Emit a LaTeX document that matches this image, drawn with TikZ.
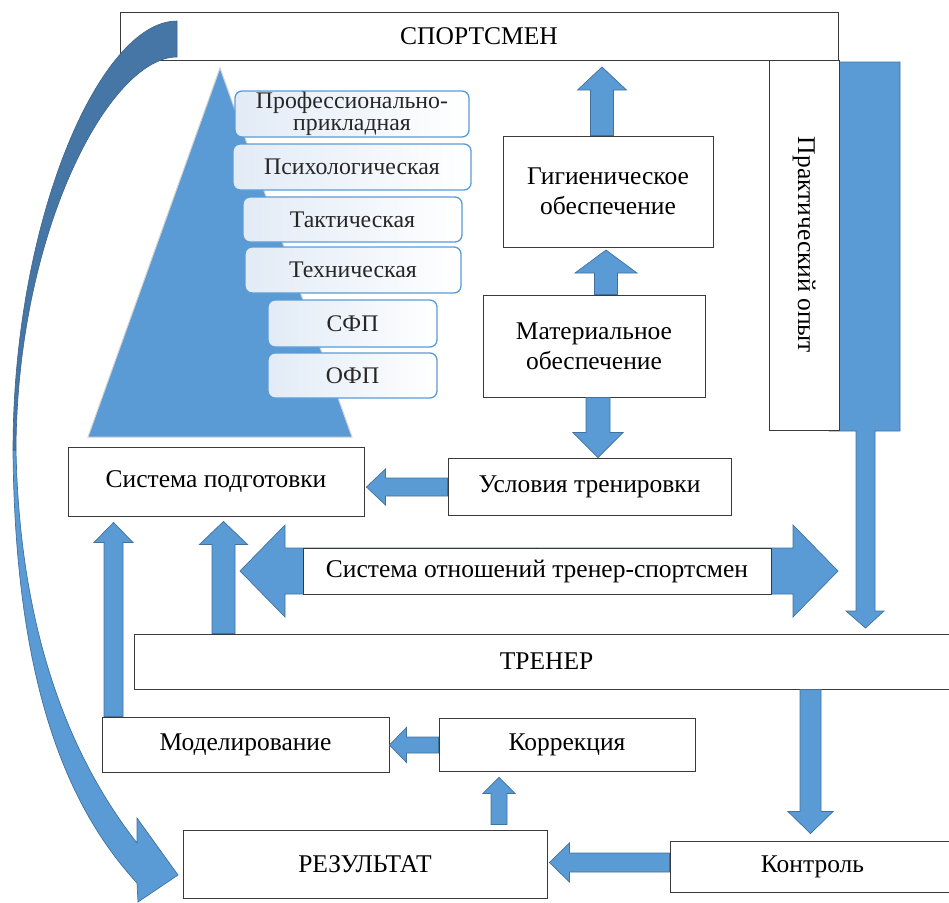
\documentclass[tikz,border=0pt]{standalone}
\usepackage{fontspec}
\setmainfont{Liberation Serif}
\usetikzlibrary{calc}
\definecolor{bluefill}{HTML}{5B9BD5}
\definecolor{blueline}{HTML}{41719C}
\definecolor{darkband}{HTML}{4676A5}
\definecolor{pale}{HTML}{E2EBF6}
\definecolor{boxline}{HTML}{3A3A3A}
\newcommand\mainsz{\fontsize{25.5}{30}\selectfont}
\newcommand\pyrsz{\fontsize{23.8}{22}\selectfont}
\tikzset{
 box/.style={draw=boxline, line width=0.9pt, fill=white, inner sep=0pt, font=\mainsz, align=center, text=black},
 pbox/.style={draw=bluefill, line width=1.3pt, rounded corners=7pt, left color=pale, right color=white, inner sep=0pt, font=\pyrsz, align=center, text=black!85},
 barrow/.style={fill=bluefill, draw=blueline, line width=0.7pt, line join=miter},
 darkarrow/.style={fill=darkband, draw=darkband!85!black, line width=0.6pt},
}
% block arrow: [opts]{base}{tip}{shaft half}{head half}{head length}
\newcommand\blockarrow[6][]{%
  \coordinate (bahb) at ($(#3)!#6!(#2)$);
  \draw[barrow,#1] ($(#2)!#4!90:(#3)$) -- ($(bahb)!#4!90:(#3)$) -- ($(bahb)!#5!90:(#3)$) -- (#3) -- ($(bahb)!#5!-90:(#3)$) -- ($(bahb)!#4!-90:(#3)$) -- ($(#2)!#4!-90:(#3)$) -- cycle;}
\begin{document}
\begin{tikzpicture}[x=1pt,y=-1pt]
\useasboundingbox (0,0) rectangle (949,902);
% pyramid
\path (220,68) coordinate (pyT) (88,437) coordinate (pyL) (352,437) coordinate (pyR);
\draw[fill=bluefill, draw=black!18, line width=1pt] (pyT) -- (pyL) -- (pyR) -- cycle;
% pyramid levels
\node[pbox, minimum width=234pt, minimum height=46pt] (prof) at (352,114) {Профессионально-\\прикладная};
\node[pbox, minimum width=238pt, minimum height=46pt] (psych) at (352,167) {Психологическая};
\node[pbox, minimum width=219pt, minimum height=45pt] (takt) at (352.5,219.5) {Тактическая};
\node[pbox, minimum width=216pt, minimum height=46pt] (tech) at (353,270) {Техническая};
\node[pbox, minimum width=169pt, minimum height=47pt] (sfp) at (352.5,323.5) {СФП};
\node[pbox, minimum width=169pt, minimum height=45pt] (ofp) at (352.5,375.5) {ОФП};
% practical experience bar
\draw[barrow] (829,62) -- (900,62) -- (900,431) -- (875,431) -- (875,611) -- (884,611) -- (865.5,628) -- (846,611) -- (856,611) -- (856,431) -- (829,431) -- cycle;
\node[box, rotate=-90, minimum width=370pt, minimum height=70pt] (prakt) at (804,245) {Практический опыт};
% top box
\node[box, minimum width=718pt, minimum height=48pt] (sport) at (479,36) {СПОРТСМЕН};
% curved arrow
\draw[barrow] (13,450) .. controls (15,690) and (70,810) .. (137,883) -- (138,902) -- (178,875) -- (137,818) -- (137,843) .. controls (80,770) and (20,650) .. (16,450) -- cycle;
\draw[darkarrow] (177,21) .. controls (100,21) and (13,220) .. (13,450) -- (16,450) .. controls (17,230) and (110,57) .. (177,57) -- cycle;
% boxes
\node[box, minimum width=210pt, minimum height=111pt] (gig) at (608,191.5) {Гигиеническое\\обеспечение};
\node[box, minimum width=222pt, minimum height=102pt] (mat) at (594,346) {Материальное\\обеспечение};
\node[box, minimum width=283pt, minimum height=57pt] (usl) at (589.5,486.5) {Условия тренировки};
\node[box, minimum width=296pt, minimum height=69pt] (podg) at (216,481.5) {Система подготовки};
% relation double arrow
\coordinate (otnL) at (240,571);
\coordinate (otnR) at (838,571);
\coordinate (otnC) at (537,571);
\blockarrow{otnC}{otnL}{23pt}{46pt}{45pt}
\blockarrow{otnC}{otnR}{23pt}{46pt}{45pt}
\node[box, minimum width=468pt, minimum height=46pt] (otn) at (537,571) {Система отношений тренер-спортсмен};
\node[box, minimum width=825pt, minimum height=55pt] (trener) at (546.5,661.5) {ТРЕНЕР};
\node[box, minimum width=287pt, minimum height=55pt] (model) at (245.5,744.5) {Моделирование};
\node[box, minimum width=256pt, minimum height=53pt] (korr) at (567,744.5) {Коррекция};
\node[box, minimum width=364pt, minimum height=68pt] (rez) at (365,864) {РЕЗУЛЬТАТ};
\node[box, minimum width=285pt, minimum height=51pt] (kontr) at (812.5,866.5) {Контроль};
% arrow end points
\path (gig.north -| 602,0) coordinate (a1b) (602,67) coordinate (a1t);
\path (mat.north -| 606,0) coordinate (a2b) (606,250) coordinate (a2t);
\path (mat.south -| 598,0) coordinate (a3b) (usl.north -| 598,0) coordinate (a3t);
\path (usl.west |- 0,487) coordinate (a4b) ($(podg.east |- 0,487)+(2,0)$) coordinate (a4t);
\path (model.north -| 113.5,0) coordinate (a6b) ($(podg.south -| 113.5,0)+(0,6)$) coordinate (a6t);
\path (trener.north -| 223.5,0) coordinate (a7b) ($(podg.south -| 223.5,0)+(0,5)$) coordinate (a7t);
\path (korr.west |- 0,745) coordinate (a8b) (model.east |- 0,745) coordinate (a8t);
\path ($(rez.north -| 499,0)+(0,-5)$) coordinate (a9b) ($(korr.south -| 499,0)+(0,6)$) coordinate (a9t);
\path (trener.south -| 810.5,0) coordinate (a10b) ($(kontr.north -| 810.5,0)+(0,-7)$) coordinate (a10t);
\path (kontr.west |- 0,862.5) coordinate (a11b) ($(rez.east |- 0,862.5)+(2,0)$) coordinate (a11t);
% arrows
\blockarrow{a1b}{a1t}{11.5pt}{24.5pt}{23pt}
\blockarrow{a2b}{a2t}{11.5pt}{31pt}{23pt}
\blockarrow{a3b}{a3t}{12pt}{25pt}{25pt}
\blockarrow{a4b}{a4t}{9pt}{18pt}{19pt}
\blockarrow{a6b}{a6t}{9.5pt}{19.5pt}{20pt}
\blockarrow{a7b}{a7t}{11.5pt}{24pt}{23pt}
\blockarrow{a8b}{a8t}{8pt}{17.5pt}{17pt}
\blockarrow{a9b}{a9t}{8pt}{16pt}{16pt}
\blockarrow{a10b}{a10t}{10.5pt}{22.5pt}{22pt}
\blockarrow{a11b}{a11t}{9.5pt}{19.5pt}{20pt}
\end{tikzpicture}
\end{document}
